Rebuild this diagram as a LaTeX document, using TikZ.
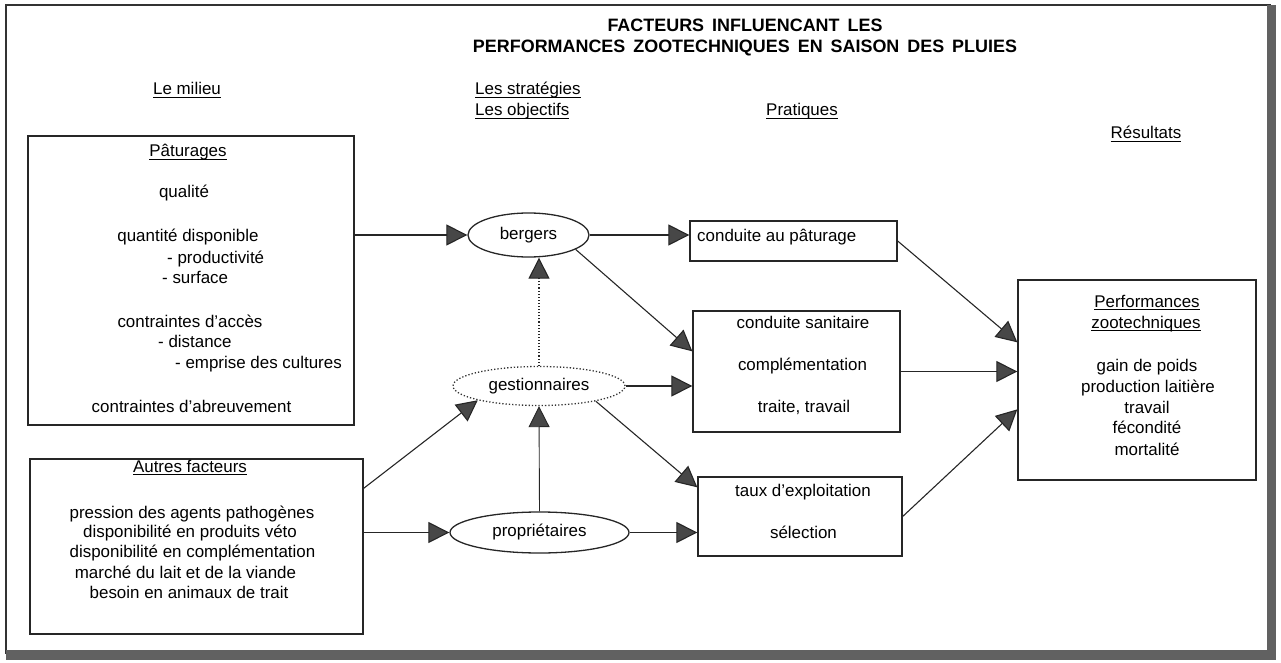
\documentclass[tikz,border=0pt]{standalone}
\usepackage{fontspec}
\setmainfont{Liberation Sans}
\usetikzlibrary{arrows.meta,calc,shapes.geometric}
% underline hugging the baseline
\newcommand\ulin[1]{\setbox0=\hbox{#1}\rlap{\rule[-3bp]{\wd0}{1.1bp}}\box0}
\begin{document}
\begin{tikzpicture}[x=1bp,y=-1bp,
  every node/.style={font=\fontsize{17}{20}\selectfont, inner sep=0pt, text=black},
  txt/.style={anchor=base},
  txtw/.style={anchor=base west},
  ttl/.style={anchor=base, font=\fontsize{18}{21}\selectfont\bfseries},
  box/.style={draw=black!85, line width=1.3bp, rectangle},
  oval/.style={draw=black!85, line width=1.3bp, ellipse},
  dotoval/.style={draw=black!80, line width=1.3bp, ellipse, dotted},
  conn/.style={line width=1.1bp, draw=black!85,
    -{Triangle[length=21bp,width=21bp,fill=black!72]}},
  dotconn/.style={conn, dotted}]

\useasboundingbox (0,0) rectangle (1281,663);

% outer frame with its heavy right and bottom edges
\draw[line width=2bp, black!80] (6,5) rectangle (1270,653);
\fill[black!62] (6,650) rectangle (1276,660);
\fill[black!62] (1267,5) rectangle (1276,660);

% title
\node[ttl] (title1) at (745,31.5) {FACTEURS\, INFLUENCANT\, LES};
\node[ttl] (title2) at (745,52.5) {PERFORMANCES\, ZOOTECHNIQUES\, EN\, SAISON\, DES\, PLUIES};

% column headings
\node[txt] (hmilieu) at (187,95) {\ulin{Le milieu}};
\node[txtw] (hstrat) at (475,95) {\ulin{Les stratégies}};
\node[txtw] (hobj) at (475,116) {\ulin{Les objectifs}};
\node[txt] (hprat) at (802,116) {\ulin{Pratiques}};
\node[txt] (hres) at (1146,139) {\ulin{Résultats}};

% le milieu
\node[box, minimum width=326bp, minimum height=289bp] (past) at (191,280.5) {};
\node[txt] (p0) at (188,157) {\ulin{Pâturages}};
\node[txt] (p1) at (184,198) {qualité};
\node[txt] (p2) at (188,242) {quantité disponible};
\node[txtw] (p3) at (167,263) {- productivité};
\node[txtw] (p4) at (162,283) {- surface};
\node[txt] (p5) at (190,327) {contraintes d'accès};
\node[txtw] (p6) at (158,347) {- distance};
\node[txtw] (p7) at (175,368) {- emprise des cultures};
\node[txt] (p8) at (191.5,412) {contraintes d'abreuvement};

\node[box, minimum width=333bp, minimum height=175bp] (autres) at (196.5,546.5) {};
\node[txt] (a0) at (190,472) {\ulin{Autres facteurs}};
\node[txt] (a1) at (192,518) {pression des agents pathogènes};
\node[txt] (a2) at (190,537) {disponibilité en produits véto};
\node[txt] (a3) at (192.5,557) {disponibilité en complémentation};
\node[txt] (a4) at (185.5,578) {marché du lait et de la viande};
\node[txt] (a5) at (189,598) {besoin en animaux de trait};

% strategies / objectives
\node[oval, minimum width=121bp, minimum height=44bp] (bergers) at (528.5,235) {bergers};
\node[dotoval, minimum width=172bp, minimum height=39bp] (gest) at (539,386) {gestionnaires};
\node[oval, minimum width=179bp, minimum height=41bp] (prop) at (539.5,532.5) {propriétaires};

% practices
\node[box, minimum width=207bp, minimum height=40bp] (cond) at (793.5,241) {};
\node[txtw] (c1) at (697,242) {conduite au pâturage};

\node[box, minimum width=207bp, minimum height=121bp] (mid) at (796.5,371.5) {};
\node[txt] (m1) at (803,328) {conduite sanitaire};
\node[txt] (m2) at (802.5,370) {complémentation};
\node[txt] (m3) at (804,412) {traite, travail};

\node[box, minimum width=204bp, minimum height=79bp] (bot) at (800,516.5) {};
\node[txt] (b1) at (803,496) {taux d'exploitation};
\node[txt] (b2) at (803.5,538) {sélection};

% results
\node[box, minimum width=238bp, minimum height=200bp] (perf) at (1137,380) {};
\node[txt] (r0) at (1147,307) {\ulin{Performances}};
\node[txt] (r1) at (1146,328) {\ulin{zootechniques}};
\node[txt] (r2) at (1147,371) {gain de poids};
\node[txt] (r3) at (1148,392) {production laitière};
\node[txt] (r4) at (1147,413) {travail};
\node[txt] (r5) at (1147,433) {fécondité};
\node[txt] (r6) at (1147,455) {mortalité};

% connectors
\draw[conn] (past.east |- bergers.west) -- (bergers.west);
\draw[conn] ([yshift=-30bp]autres.north east) -- (gest.south west);
\draw[conn] (autres.east |- prop.west) -- (prop.west);

\draw[dotconn] (gest.north) -- (gest.north |- bergers.south);
\draw[conn, line width=0.9bp] (prop.north) -- (gest.south);

\draw[conn] (bergers.east) -- (cond.west |- bergers.east);
\draw[conn] (bergers.-17) -- ([yshift=-41bp]mid.north west);
\draw[conn] (gest.east) -- (mid.west |- gest.east);
\draw[conn] (gest.-15) -- ([yshift=-11bp]bot.north west);
\draw[conn] (prop.east) -- (bot.west |- prop.east);

\draw[conn] (cond.east) -- ([yshift=-63bp]perf.north west);
\draw[conn] (mid.east) -- (perf.west |- mid.east);
\draw[conn] (bot.east) -- ([yshift=-130bp]perf.north west);
\end{tikzpicture}
\end{document}
